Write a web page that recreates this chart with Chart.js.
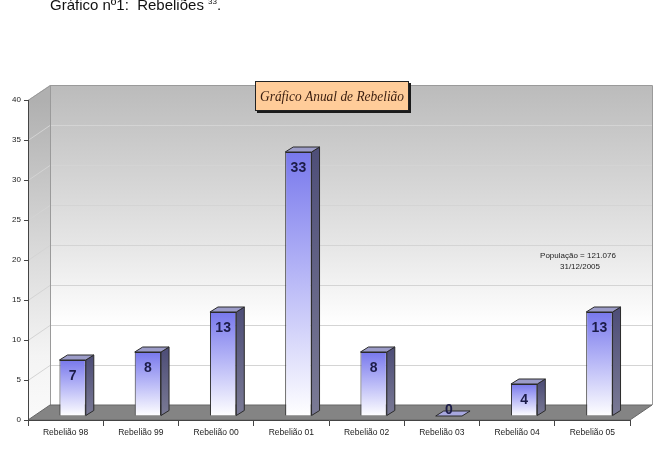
<!DOCTYPE html>
<html>
<head>
<meta charset="utf-8">
<script src="https://cdn.jsdelivr.net/npm/chart.js@4/dist/chart.umd.min.js"></script>
<style>
  html, body { margin: 0; padding: 0; background: #fff; }
  #wrap { position: relative; width: 660px; height: 451px; overflow: hidden; }
  #head { position: absolute; left: 50px; top: -4px; font: 15px "Liberation Sans", Arial, sans-serif; color: #111; white-space: pre; }
  #head sup { font-size: 8px; }
  canvas { position: absolute; left: 0; top: 0; }
</style>
</head>
<body>
<div id="wrap">
  <canvas id="c" width="660" height="451"></canvas>
  <div id="head">Gráfico nº1:  Rebeliões <sup>33</sup>.</div>
</div>
<script>
// ---- data ----
const categories = ['Rebelião 98', 'Rebelião 99', 'Rebelião 00', 'Rebelião 01', 'Rebelião 02', 'Rebelião 03', 'Rebelião 04', 'Rebelião 05'];
const rebelioes = [7, 8, 13, 33, 8, 0, 4, 13];
const yMin = 0;
const yMax = 40;
const yStep = 5;
const chartTitle = 'Gráfico Anual de Rebelião';
const noteLines = ['População = 121.076', '31/12/2005'];

// ---- 3D look ----
const WALL = { dx: 22, dy: -15 };
const BAR_SHIFT = { dx: 7, dy: -4 };
const FACE = { dx: 8, dy: -5 };

function barGradient(ctx) {
  const chart = ctx.chart;
  if (!chart.chartArea || !chart.scales.y) return '#8080f0';
  const ys = chart.scales.y;
  const v = ctx.parsed ? ctx.parsed.y : 0;
  const top = ys.getPixelForValue(v);
  const bot = ys.getPixelForValue(0);
  if (bot - top < 1) return '#9a9ad8';
  const g = chart.ctx.createLinearGradient(0, top, 0, bot);
  g.addColorStop(0, '#7878ec');
  g.addColorStop(0.45, '#b4b4f6');
  g.addColorStop(1, '#ffffff');
  return g;
}

const threeD = {
  id: 'threeD',
  beforeDraw(chart) {
    const c = chart.ctx, ca = chart.chartArea, ys = chart.scales.y;
    const L = ca.left, R = ca.right;
    const top = ys.getPixelForValue(yMax), bot = ys.getPixelForValue(yMin);
    const dx = WALL.dx, dy = WALL.dy;
    c.save();
    let g = c.createLinearGradient(0, top + dy, 0, bot + dy);
    g.addColorStop(0, '#bbbbbb');
    g.addColorStop(0.5, '#e6e6e6');
    g.addColorStop(0.75, '#ffffff');
    g.addColorStop(1, '#ffffff');
    c.fillStyle = g;
    c.fillRect(L + dx, top + dy, R - L, bot - top);
    g = c.createLinearGradient(0, top, 0, bot);
    g.addColorStop(0, '#b0b0b0');
    g.addColorStop(0.5, '#dcdcdc');
    g.addColorStop(0.8, '#f4f4f4');
    g.addColorStop(1, '#fafafa');
    c.fillStyle = g;
    c.beginPath();
    c.moveTo(L, top); c.lineTo(L + dx, top + dy); c.lineTo(L + dx, bot + dy); c.lineTo(L, bot);
    c.closePath(); c.fill();
    c.lineWidth = 1;
    c.strokeStyle = '#d4d4d4';
    for (let v = yMin + yStep; v < yMax; v += yStep) {
      const y = Math.round(ys.getPixelForValue(v)) + 0.5;
      c.beginPath();
      c.moveTo(L, y); c.lineTo(L + dx, y + dy); c.lineTo(R + dx, y + dy);
      c.stroke();
    }
    c.strokeStyle = '#9a9a9a';
    c.beginPath();
    c.moveTo(L, top + 0.5); c.lineTo(L + dx + 0.5, top + dy + 0.5); c.lineTo(R + dx + 0.5, top + dy + 0.5); c.lineTo(R + dx + 0.5, bot + dy);
    c.moveTo(L + dx + 0.5, top + dy); c.lineTo(L + dx + 0.5, bot + dy);
    c.stroke();
    c.fillStyle = '#848484';
    c.strokeStyle = '#666';
    c.beginPath();
    c.moveTo(L, bot); c.lineTo(L + dx, bot + dy); c.lineTo(R + dx, bot + dy); c.lineTo(R, bot);
    c.closePath(); c.fill(); c.stroke();
    c.restore();
  },
  beforeDatasetsDraw(chart) {
    chart.ctx.save();
    chart.ctx.translate(BAR_SHIFT.dx, BAR_SHIFT.dy);
  },
  afterDatasetsDraw(chart) {
    const c = chart.ctx;
    const meta = chart.getDatasetMeta(0);
    const data = chart.data.datasets[0].data;
    meta.data.forEach((bar, i) => {
      const p = bar.getProps(['x', 'y', 'base', 'width'], true);
      const l = p.x - p.width / 2, r = p.x + p.width / 2;
      const t = p.y, b = p.base;
      const fx = FACE.dx, fy = FACE.dy;
      c.lineWidth = 1;
      c.strokeStyle = '#2a2a2a';
      if (b - t > 0.5) {
        const g = c.createLinearGradient(0, t, 0, b);
        g.addColorStop(0, '#4f4f78');
        g.addColorStop(1, '#7a7a95');
        c.fillStyle = g;
        c.beginPath();
        c.moveTo(r, t); c.lineTo(r + fx, t + fy); c.lineTo(r + fx, b + fy); c.lineTo(r, b);
        c.closePath(); c.fill(); c.stroke();
      }
      c.fillStyle = b - t > 0.5 ? '#9c9cc8' : '#a8a8e0';
      c.beginPath();
      c.moveTo(l, t); c.lineTo(r, t); c.lineTo(r + fx, t + fy); c.lineTo(l + fx, t + fy);
      c.closePath(); c.fill(); c.stroke();
      c.fillStyle = '#1c1c48';
      c.font = 'bold 14px "Liberation Sans", Arial, sans-serif';
      c.textAlign = 'center';
      c.textBaseline = 'middle';
      const ly = (b - t > 20) ? t + 16 : (b - t > 0.5 ? (t + b) / 2 + 1 : b - 6);
      c.fillText(String(data[i]), p.x, ly);
    });
    c.restore();
  },
  afterDraw(chart) {
    const c = chart.ctx;
    c.save();
    const cx = 332, cy = 96, w = 154, h = 30;
    c.fillStyle = '#1a1a1a';
    c.fillRect(cx - w / 2 + 2, cy - h / 2 + 2, w, h);
    c.fillStyle = '#ffcc99';
    c.fillRect(cx - w / 2, cy - h / 2, w, h);
    c.strokeStyle = '#222';
    c.lineWidth = 1;
    c.strokeRect(cx - w / 2 + 0.5, cy - h / 2 + 0.5, w - 1, h - 1);
    c.fillStyle = '#3a1e10';
    c.font = 'italic 15px "Liberation Serif", serif';
    c.textAlign = 'center';
    c.textBaseline = 'middle';
    const tw = c.measureText(chartTitle).width;
    const sx = Math.min(1, 144 / tw);
    c.translate(cx, cy + 1);
    c.scale(sx, 1);
    c.fillText(chartTitle, 0, 0);
    c.setTransform(1, 0, 0, 1, 0, 0);
    c.fillStyle = '#222';
    c.font = '8px "Liberation Sans", Arial, sans-serif';
    c.fillText(noteLines[0], 578, 256);
    c.fillText(noteLines[1], 580, 267);
    c.restore();
  }
};

new Chart(document.getElementById('c'), {
  type: 'bar',
  data: {
    labels: categories,
    datasets: [{
      data: rebelioes,
      backgroundColor: barGradient,
      borderColor: '#2a2a2a',
      borderWidth: 1,
      categoryPercentage: 1,
      barPercentage: 0.35,
      clip: false
    }]
  },
  options: {
    responsive: false,
    animation: false,
    devicePixelRatio: 1,
    layout: { padding: { top: 100, right: 30, left: 0, bottom: 0 } },
    plugins: {
      legend: { display: false },
      tooltip: { enabled: false },
      title: { display: false }
    },
    scales: {
      x: {
        offset: true,
        afterFit(scale) { scale.height = 31; },
        grid: { offset: true, drawOnChartArea: false, drawTicks: true, tickLength: 6, color: '#444' },
        border: { display: true, color: '#444' },
        ticks: { color: '#222', font: { size: 8.5, family: '"Liberation Sans", Arial, sans-serif' }, padding: 2, maxRotation: 0, autoSkip: false }
      },
      y: {
        min: yMin,
        max: yMax,
        afterFit(scale) { scale.width = 28; },
        grid: { drawOnChartArea: false, drawTicks: true, tickLength: 4, color: '#444' },
        border: { display: true, color: '#444' },
        ticks: { stepSize: yStep, color: '#222', font: { size: 8, family: '"Liberation Sans", Arial, sans-serif' }, padding: 3 }
      }
    }
  },
  plugins: [threeD]
});
</script>
</body>
</html>
